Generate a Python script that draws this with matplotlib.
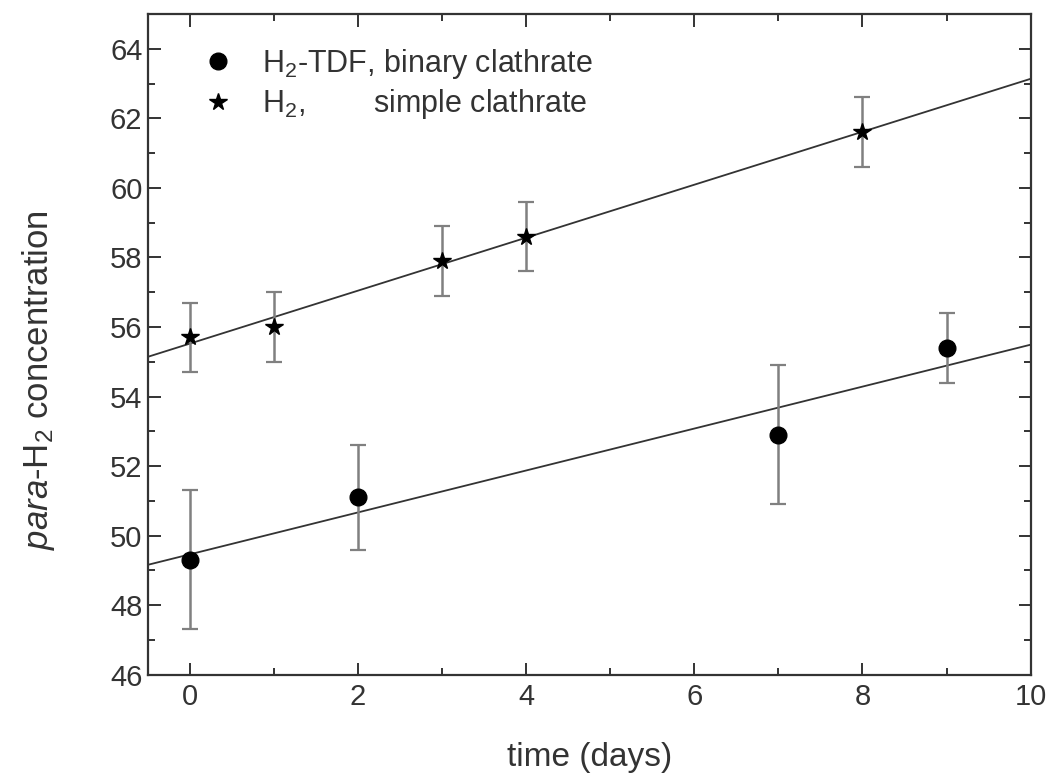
import numpy as np
import matplotlib
matplotlib.use("Agg")
import matplotlib.pyplot as plt
from matplotlib.ticker import MultipleLocator
from matplotlib.lines import Line2D

# binary clathrate (H2-TDF)
days_bin = [0, 2, 7, 9]
conc_bin = [49.3, 51.1, 52.9, 55.4]
err_bin = [2.0, 1.5, 2.0, 1.0]

# simple clathrate (H2)
days_simple = [0, 1, 3, 4, 8]
conc_simple = [55.7, 56.0, 57.9, 58.6, 61.6]
err_simple = [1.0, 1.0, 1.0, 1.0, 1.0]

label_bin = "H$_2$-TDF, binary clathrate"
label_simple = "H$_2$,        simple clathrate"


def main():
    plt.rcParams["font.family"] = "Liberation Sans"
    plt.rcParams["mathtext.fontset"] = "custom"
    plt.rcParams["mathtext.rm"] = "Liberation Sans"
    plt.rcParams["mathtext.it"] = "Liberation Sans:italic"
    txt = "#333333"

    fig = plt.figure(figsize=(10.57, 7.8), dpi=100)
    ax = fig.add_axes([0.140, 0.135, 0.835, 0.847])

    #least squares lines
    xfit = np.array([-0.5, 10])
    for x, y in [(days_bin, conc_bin), (days_simple, conc_simple)]:
        p = np.polyfit(x, y, 1)
        ax.plot(xfit, np.polyval(p, xfit), color="#333333", lw=1.3, zorder=2)

    ax.errorbar(days_bin, conc_bin, yerr=err_bin, fmt="o", ms=12, color="black",
                ecolor="#808080", elinewidth=1.8, capsize=6, capthick=1.6, zorder=3)
    ax.errorbar(days_simple, conc_simple, yerr=err_simple, fmt="*", ms=13, color="black",
                ecolor="#808080", elinewidth=1.8, capsize=6, capthick=1.6, zorder=3)

    ax.set_xlim(-0.5, 10)
    ax.set_ylim(46, 65)
    ax.xaxis.set_major_locator(MultipleLocator(2))
    ax.xaxis.set_minor_locator(MultipleLocator(1))
    ax.yaxis.set_major_locator(MultipleLocator(2))
    ax.yaxis.set_minor_locator(MultipleLocator(1))
    ax.tick_params(which="both", direction="in", top=True, right=True,
                   colors="#333333", labelcolor=txt, labelsize=21, width=1.4)
    ax.tick_params(which="major", length=9)
    ax.tick_params(which="minor", length=5)
    ax.tick_params(axis="x", which="major", pad=6)
    ax.tick_params(axis="y", which="major", pad=4)
    for s in ax.spines.values():
        s.set_linewidth(1.6)
        s.set_color("#333333")

    ax.set_xlabel("time (days)", fontsize=24, color=txt)
    ax.set_ylabel(r"$\it{para}$-H$_2$ concentration", fontsize=25, color=txt)
    ax.xaxis.set_label_coords(0.5, -0.102)
    ax.yaxis.set_label_coords(-0.103, 0.446)

    handles = [Line2D([], [], ls="none", marker="o", ms=12, color="black"),
               Line2D([], [], ls="none", marker="*", ms=13, color="black")]
    leg = ax.legend(handles, [label_bin, label_simple], loc="upper left", frameon=False,
                    fontsize=22, handletextpad=0.65, handlelength=1.6,
                    borderaxespad=0.3, labelspacing=0.22, bbox_to_anchor=(0.027, 0.983))
    for t in leg.get_texts():
        t.set_color(txt)

    fig.savefig("out.png", dpi=100)


if __name__ == "__main__":
    main()
